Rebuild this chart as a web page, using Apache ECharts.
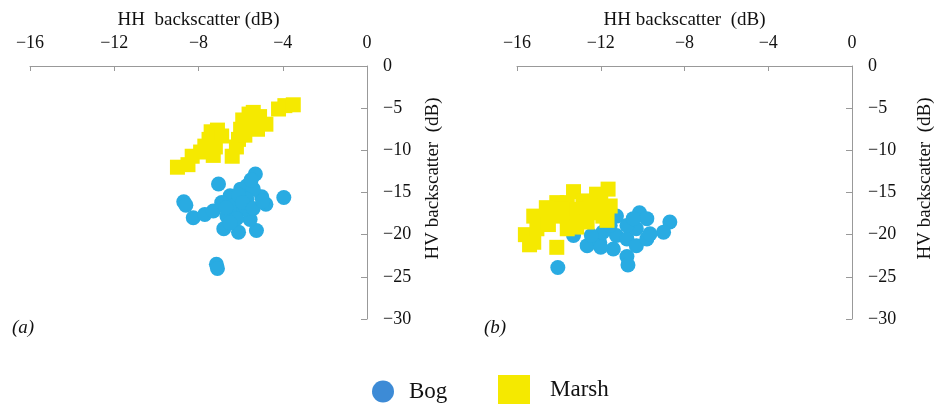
<!DOCTYPE html>
<html>
<head>
<meta charset="utf-8">
<script src="https://cdn.jsdelivr.net/npm/echarts@6/dist/echarts.min.js"></script>
<style>html,body{margin:0;padding:0;background:#fff}#c{width:934px;height:404px}</style>
</head>
<body>
<div id="c"></div>
<script>
// ---- data (HH dB, HV dB) ----
const bogA = [[-5.3,-12.8],[-7.05,-14.0],[-8.7,-16.1],[-8.6,-16.5],[-8.25,-18.0],[-7.7,-17.6],[-7.3,-17.2],[-3.95,-15.6],[-4.8,-16.4],[-5.0,-15.5],[-6.8,-19.3],[-6.1,-19.7],[-5.25,-19.5],[-5.55,-18.2],[-7.15,-23.5],[-7.1,-24.0],[-6.0,-14.6],[-5.7,-14.2],[-5.4,-14.6],[-5.5,-13.5],[-6.5,-15.4],[-6.9,-16.2],[-6.35,-16.6],[-5.85,-17.0],[-6.65,-17.8],[-6.2,-18.1],[-6.5,-18.6],[-5.7,-15.8],[-6.1,-15.3],[-5.9,-16.2],[-6.7,-16.8],[-5.4,-16.9],[-4.95,-16.0]];
const marshA = [[-9.0,-12.0],[-8.5,-11.7],[-8.3,-10.7],[-7.9,-10.2],[-7.7,-9.5],[-7.5,-8.7],[-7.4,-7.8],[-7.1,-7.6],[-6.9,-8.3],[-7.3,-10.6],[-7.2,-9.6],[-6.4,-10.7],[-6.2,-9.6],[-6.1,-8.7],[-6.0,-7.5],[-5.9,-6.4],[-5.6,-5.7],[-5.4,-5.5],[-5.5,-7.2],[-5.1,-6.0],[-4.8,-6.9],[-5.2,-7.5],[-4.2,-5.1],[-3.9,-4.7],[-3.5,-4.6],[-5.8,-8.2]];
const bogB = [[-14.05,-23.9],[-10.75,-22.6],[-10.7,-23.6],[-11.25,-17.8],[-10.15,-17.4],[-9.8,-18.1],[-8.7,-18.5],[-9.0,-19.7],[-12.65,-21.3],[-12.05,-20.9],[-11.4,-21.7],[-11.25,-20.1],[-10.75,-20.5],[-10.3,-21.3],[-9.8,-20.5],[-9.65,-19.9],[-10.3,-19.3],[-10.75,-18.9],[-11.9,-19.7],[-12.45,-20.1],[-13.3,-20.1],[-11.55,-18.9],[-10.45,-18.1],[-12.0,-21.5]];
const marshB = [[-11.65,-14.6],[-12.2,-15.2],[-13.3,-14.9],[-12.85,-16.0],[-13.6,-16.2],[-14.1,-16.2],[-14.6,-16.8],[-15.2,-17.8],[-15.6,-20.0],[-15.4,-21.2],[-15.2,-20.9],[-14.1,-21.5],[-14.7,-18.1],[-14.25,-17.8],[-13.6,-17.8],[-13.0,-17.8],[-12.35,-17.4],[-11.9,-17.8],[-12.0,-16.2],[-12.5,-16.6],[-13.15,-17.0],[-13.9,-17.0],[-13.15,-19.1],[-13.6,-19.3],[-15.05,-19.3],[-12.65,-18.5],[-11.7,-18.3],[-11.55,-16.6],[-14.5,-18.8]];
const xNames = ['HH  backscatter (dB)', 'HH backscatter  (dB)'];
const yName = 'HV backscatter  (dB)';
const panelLabels = ['(a)', '(b)'];

const FONT = 'Liberation Serif';
const AX = '#999999';
const TXT = '#111';
const BOG = '#29abe2';
const MARSH = '#f5e900';
const minus = v => String(v).replace('-', '\u2212');

function xAxis(i) {
  return {
    gridIndex: i, type: 'value', position: 'top', min: -16, max: 0, interval: 4,
    name: xNames[i], nameLocation: 'middle', nameGap: 36,
    nameTextStyle: { fontFamily: FONT, fontSize: 19, color: TXT },
    axisLine: { show: true, onZero: false, lineStyle: { color: AX, width: 1 } },
    axisTick: { show: true, inside: true, length: 5, lineStyle: { color: AX, width: 1 } },
    axisLabel: { margin: 14, fontFamily: FONT, fontSize: 18, color: TXT, formatter: minus },
    splitLine: { show: false }
  };
}
function yAxis(i) {
  return {
    gridIndex: i, type: 'value', position: 'right', min: -30, max: 0, interval: 5,
    name: yName, nameLocation: 'middle', nameGap: i === 0 ? 57 : 64,
    nameTextStyle: { fontFamily: FONT, fontSize: 19, color: TXT, padding: [0, 0, 0, 28] },
    axisLine: { show: true, onZero: false, lineStyle: { color: AX, width: 1 } },
    axisTick: { show: true, inside: true, length: 6, lineStyle: { color: AX, width: 1 } },
    axisLabel: { margin: 16, fontFamily: FONT, fontSize: 18, color: TXT, formatter: minus },
    splitLine: { show: false }
  };
}
function sc(name, data, i, sym, color) {
  return {
    name, type: 'scatter', xAxisIndex: i, yAxisIndex: i, data,
    symbol: sym, symbolSize: 15, itemStyle: { color, opacity: 1 },
    emphasis: { disabled: true }
  };
}

const chart = echarts.init(document.getElementById('c'), null, { renderer: 'canvas' });
chart.setOption({
  animation: false,
  backgroundColor: '#fff',
  grid: [
    { left: 30, top: 66, width: 337, height: 253, outerBoundsMode: 'none', containLabel: false },
    { left: 517, top: 66, width: 335, height: 253, outerBoundsMode: 'none', containLabel: false }
  ],
  xAxis: [xAxis(0), xAxis(1)],
  yAxis: [yAxis(0), yAxis(1)],
  legend: [
    { data: [{ name: 'Bog', icon: 'circle', itemStyle: { color: '#3d8bd6' } }],
      left: 372, top: 380, padding: 0, itemWidth: 22, itemHeight: 22,
      selectedMode: false,
      textStyle: { fontFamily: FONT, fontSize: 23, color: TXT, padding: [0, 0, 0, 10] } },
    { data: [{ name: 'Marsh', icon: 'rect', itemStyle: { color: MARSH } }],
      left: 498, top: 375, padding: 0, itemWidth: 32, itemHeight: 30,
      selectedMode: false,
      textStyle: { fontFamily: FONT, fontSize: 23, color: TXT, padding: [0, 0, 0, 15] } }
  ],
  graphic: [
    { type: 'text', left: 12, top: 318, style: { text: panelLabels[0], font: 'italic 19px "Liberation Serif"', fill: TXT } },
    { type: 'text', left: 484, top: 318, style: { text: panelLabels[1], font: 'italic 19px "Liberation Serif"', fill: TXT } }
  ],
  series: [
    sc('Bog', bogA, 0, 'circle', BOG),
    sc('Marsh', marshA, 0, 'rect', MARSH),
    sc('Bog', bogB, 1, 'circle', BOG),
    sc('Marsh', marshB, 1, 'rect', MARSH)
  ]
});
</script>
</body>
</html>
